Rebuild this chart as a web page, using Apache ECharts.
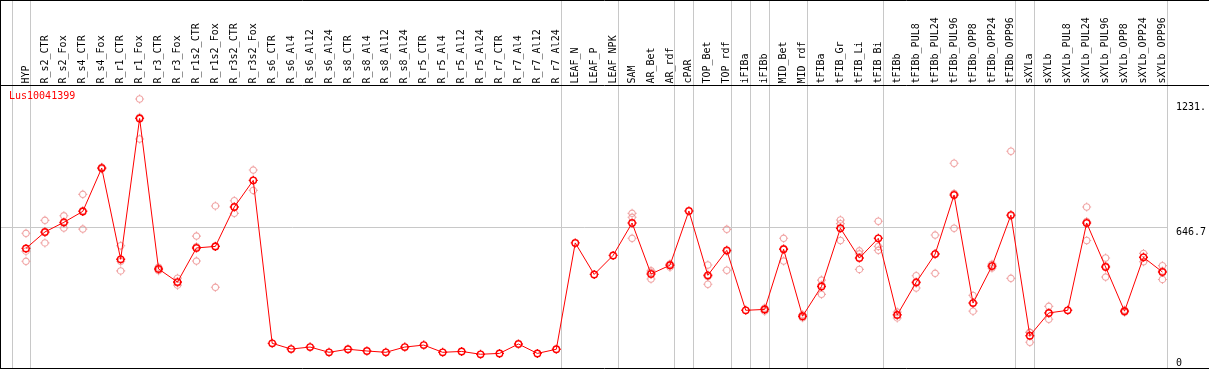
<!DOCTYPE html>
<html>
<head>
<meta charset="utf-8">
<script src="https://cdn.jsdelivr.net/npm/echarts@6/dist/echarts.min.js"></script>
<style>
html,body{margin:0;padding:0;background:#fff;}
#chart{width:1209px;height:370px;}
</style>
</head>
<body>
<div id="chart"></div>
<script>
const geneId = 'Lus10041399';
const categories = ['HYP','R_s2_CTR','R_s2_Fox','R_s4_CTR','R_s4_Fox','R_r1_CTR','R_r1_Fox','R_r3_CTR','R_r3_Fox','R_r1s2_CTR','R_r1s2_Fox','R_r3s2_CTR','R_r3s2_Fox','R_s6_CTR','R_s6_Al4','R_s6_Al12','R_s6_Al24','R_s8_CTR','R_s8_Al4','R_s8_Al12','R_s8_Al24','R_r5_CTR','R_r5_Al4','R_r5_Al12','R_r5_Al24','R_r7_CTR','R_r7_Al4','R_r7_Al12','R_r7_Al24','LEAF_N','LEAF_P','LEAF_NPK','SAM','AR_Bet','AR_rdf','cPAR','TOP_Bet','TOP_rdf','iFIBa','iFIBb','MID_Bet','MID_rdf','tFIBa','tFIB_Gr','tFIB_Li','tFIB_Bi','tFIBb','tFIBb_PUL8','tFIBb_PUL24','tFIBb_PUL96','tFIBb_OPP8','tFIBb_OPP24','tFIBb_OPP96','sXYLa','sXYLb','sXYLb_PUL8','sXYLb_PUL24','sXYLb_PUL96','sXYLb_OPP8','sXYLb_OPP24','sXYLb_OPP96'];
const meanValues = [549,624,668,718,916,499,1143,455,395,551,558,738,860,115,89,98,74,88,80,74,98,107,74,78,65,69,112,69,88,574,430,517,665,432,472,720,426,540,266,270,545,239,375,641,505,595,245,394,523,793,299,468,701,150,254,266,665,464,262,508,441];
const rep1 = [618,677,698,796,920,561,1231.8,463,413,605,743,767,907,null,null,null,null,null,null,null,null,null,null,null,null,null,null,null,null,null,null,null,709,447,463,null,473,636,null,262,595,246,404,679,538,673,231,424,610,938,334,477,993,165,284,null,738,505,267,526,470];
const rep2 = [536,574,642,637,912,446,1049,447,381,491,371,709,814,null,null,null,null,null,null,null,null,null,null,null,null,null,null,null,null,null,null,null,595,409,478,null,385,449,null,276,491,232,339,662,453,558,258,368,435,641,262,459,412,120,225,null,585,418,257,510,407];
const rep3 = [490,621,664,722,916,490,1148,455,392,557,560,738,859,null,null,null,null,null,null,null,null,null,null,null,null,null,null,null,null,null,null,null,691,440,475,null,420,535,null,272,549,null,382,585,524,540,246,390,524,800,301,468,698,165,253,null,672,469,262,488,446];
const yTickValues = [0, 646.7, 1231.8];
const yTickLabels = ['0', '646.7', '1231.'];
const yMax = 1293.4;
const groupEnds = [-1, 0, 28, 31, 34, 35, 37, 38, 39, 41, 45, 52, 53, 60];

const FONT = '"DejaVu Sans Mono", "Liberation Mono", monospace';
const ringPath = 'path://M-3.2,0A3.2,3.2 0 1,1 3.2,0A3.2,3.2 0 1,1 -3.2,0ZM0,-4.5L0,-3.2M0,3.2L0,4.5M-4.5,0L-3.2,0M3.2,0L4.5,0';

const repPoints = [];
[rep1, rep2, rep3].forEach(r => r.forEach((v, i) => { if (v != null) repPoints.push([i, v]); }));

const chart = echarts.init(document.getElementById('chart'), null, {renderer: 'canvas'});
chart.setOption({
  animation: false,
  backgroundColor: '#ffffff',
  title: {
    text: geneId, left: 9, top: 91, padding: 0,
    textStyle: {color: '#ff0000', fontFamily: FONT, fontSize: 10, fontWeight: 'normal'}
  },
  grid: {left: 16.5, right: 33.5, top: 85.5, bottom: 1.5, containLabel: false},
  xAxis: {
    type: 'category', position: 'top', data: categories, boundaryGap: true,
    axisLine: {show: false}, axisTick: {show: false}, splitLine: {show: false},
    axisLabel: {interval: 0, rotate: 90, margin: 2, color: '#000', fontFamily: FONT, fontSize: 10}
  },
  yAxis: {
    type: 'value', position: 'right', min: 0, max: yMax,
    axisLine: {show: false}, axisTick: {show: false}, splitLine: {show: false},
    axisLabel: {
      customValues: yTickValues, margin: 4, color: '#000', fontFamily: FONT, fontSize: 10,
      verticalAlign: 'top', verticalAlignMinLabel: 'bottom',
      formatter: v => {
        const k = yTickValues.indexOf(v);
        if (k < 0) return '';
        return k === yTickValues.length - 1 ? '{m|' + yTickLabels[k] + '}' : yTickLabels[k];
      },
      rich: {m: {padding: [3, 0, 0, 0], color: '#000', fontFamily: FONT, fontSize: 10}}
    }
  },
  series: [
    {
      type: 'scatter', data: repPoints, symbol: ringPath, symbolSize: 9, z: 2,
      itemStyle: {color: 'rgba(0,0,0,0)', borderColor: '#ec8c8c', borderWidth: 1.1}
    },
    {
      type: 'line', data: meanValues, symbol: ringPath, symbolSize: 9, showAllSymbol: true, z: 3,
      lineStyle: {color: '#ff0000', width: 1},
      itemStyle: {color: 'rgba(0,0,0,0)', borderColor: '#ff0000', borderWidth: 1.4}
    }
  ]
});

function drawDecor() {
  const c0 = chart.convertToPixel({xAxisIndex: 0}, 0);
  const c1 = chart.convertToPixel({xAxisIndex: 0}, 1);
  const band = c1 - c0;
  const sepX = groupEnds.map(i => Math.round(c0 + band * i + band * 4.5 / 19) + 0.5);
  const yMid = Math.round(chart.convertToPixel({yAxisIndex: 0}, 646.7)) + 0.5;
  const yTop = Math.round(chart.convertToPixel({yAxisIndex: 0}, yMax)) + 0.5 - 1;
  const yBot = Math.round(chart.convertToPixel({yAxisIndex: 0}, 0)) - 0.5;
  const grey = '#c8c8c8';
  const g = [];
  sepX.forEach(x => g.push({type: 'line', z: 1, shape: {x1: x, y1: 0, x2: x, y2: yBot}, style: {stroke: grey, lineWidth: 1}}));
  g.push({type: 'line', z: 1, shape: {x1: 1, y1: yMid, x2: sepX[sepX.length - 1], y2: yMid}, style: {stroke: grey, lineWidth: 1}});
  g.push({type: 'line', z: 10, shape: {x1: 0, y1: 0.5, x2: 1209, y2: 0.5}, style: {stroke: '#000', lineWidth: 1}});
  g.push({type: 'line', z: 10, shape: {x1: 0, y1: yTop, x2: 1209, y2: yTop}, style: {stroke: '#000', lineWidth: 1}});
  g.push({type: 'line', z: 10, shape: {x1: 0, y1: yBot, x2: 1209, y2: yBot}, style: {stroke: '#000', lineWidth: 1}});
  g.push({type: 'line', z: 10, shape: {x1: 0.5, y1: 0, x2: 0.5, y2: yBot}, style: {stroke: '#000', lineWidth: 1}});
  chart.setOption({graphic: g});
}
drawDecor();
</script>
</body>
</html>
